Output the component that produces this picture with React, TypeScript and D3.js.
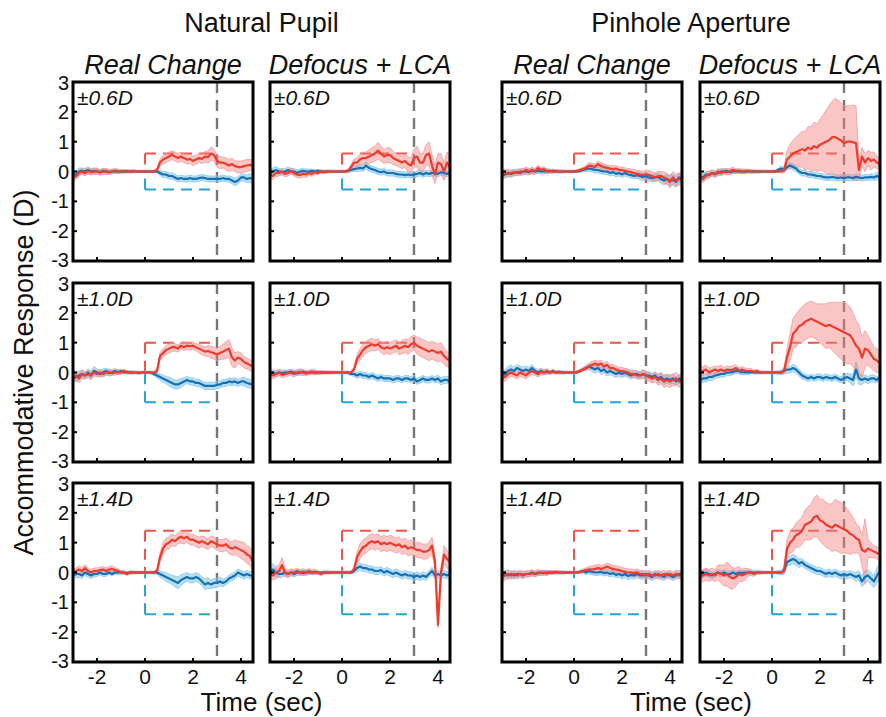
import React from 'react';
import * as d3 from 'd3';

// ---------- DATA ----------
const TIME = [-3,-2.875,-2.75,-2.625,-2.5,-2.375,-2.25,-2.125,
  -2,-1.875,-1.75,-1.625,-1.5,-1.375,-1.25,-1.125,
  -1,-0.875,-0.75,-0.625,-0.5,-0.375,-0.25,-0.125,
  0,0.125,0.25,0.375,0.5,0.625,0.75,0.875,
  1,1.125,1.25,1.375,1.5,1.625,1.75,1.875,
  2,2.125,2.25,2.375,2.5,2.625,2.75,2.875,
  3,3.125,3.25,3.375,3.5,3.625,3.75,3.875,
  4,4.125,4.25,4.375,4.5];

const GROUP_TITLES = ['Natural Pupil', 'Pinhole Aperture'];
const COLUMN_TITLES = ['Real Change', 'Defocus + LCA', 'Real Change', 'Defocus + LCA'];
const AMPLITUDES = [0.6, 1.0, 1.4];
const AMP_LABELS = ['\u00B10.6D', '\u00B11.0D', '\u00B11.4D'];
const X_TICKS = [-2, 0, 2, 4];
const Y_TICKS = [-3, -2, -1, 0, 1, 2, 3];
const STIM_END = 3;

// Row 1: +/-0.6D
const RED_NR06 = [-0.2,-0.15,-0.05,0.0,-0.05,0.02,-0.02,0.0, 0.02,-0.03,0.0,0.01,-0.02,0.0,0.02,0.0, 0.0,0.01,0.0,0.0,0.01,0.0,0.0,0.0, 0.0,0.0,0.0,0.0,0.05,0.3,0.4,0.45, 0.5,0.55,0.5,0.45,0.5,0.45,0.4,0.42, 0.35,0.4,0.45,0.42,0.5,0.48,0.6,0.55, 0.35,0.3,0.3,0.25,0.2,0.25,0.18,0.15, 0.15,0.18,0.2,0.22,0.2];
const RED_NR06_SE = [.12,.12,.1,.1,.1,.1,.1,.1, .1,.1,.1,.1,.08,.08,.08,.08, .06,.06,.05,.05,.05,.04,.04,.04, .04,.04,.04,.04,.06,.12,.15,.15, .15,.15,.15,.15,.15,.15,.15,.15, .15,.15,.15,.15,.18,.2,.22,.2, .2,.2,.18,.2,.2,.2,.18,.2, .2,.2,.2,.18,.2];
const BLUE_NR06 = [-0.1,-0.1,0.0,0.02,0.0,0.05,0.0,0.02, 0.0,-0.02,0.02,0.0,-0.02,0.0,0.01,0.0, 0.0,0.0,0.01,0.0,0.0,0.0,0.0,0.0, 0.0,0.0,0.0,0.0,0.0,-0.05,-0.1,-0.1, -0.15,-0.15,-0.2,-0.25,-0.22,-0.25,-0.25,-0.22, -0.25,-0.25,-0.22,-0.2,-0.22,-0.25,-0.25,-0.25, -0.25,-0.25,-0.22,-0.25,-0.25,-0.3,-0.35,-0.3, -0.2,-0.2,-0.25,-0.22,-0.25];
const BLUE_NR06_SE = [.1,.12,.12,.1,.1,.1,.1,.1, .08,.08,.08,.08,.08,.06,.06,.06, .05,.05,.05,.04,.04,.04,.04,.04, .04,.04,.04,.04,.05,.08,.1,.1, .1,.1,.1,.1,.1,.1,.1,.1, .1,.1,.1,.1,.1,.1,.1,.1, .1,.1,.1,.1,.1,.12,.12,.12, .12,.12,.12,.15,.15];

const RED_ND06 = [-0.1,-0.15,-0.05,-0.05,0.0,-0.08,-0.05,0.02, -0.05,-0.1,-0.12,-0.08,-0.1,-0.05,-0.08,-0.02, -0.05,0.0,-0.02,0.0,0.0,0.0,0.0,0.0, 0.0,0.0,0.02,0.15,0.3,0.3,0.4,0.45, 0.45,0.5,0.55,0.6,0.7,0.6,0.5,0.55, 0.55,0.45,0.4,0.35,0.3,0.35,0.25,0.2, 0.45,0.5,0.3,0.3,0.55,0.6,0.2,-0.1, 0.3,0.25,0.0,0.3,0.15];
const RED_ND06_SE = [.12,.12,.12,.1,.1,.1,.1,.1, .1,.1,.1,.1,.1,.08,.08,.08, .06,.06,.05,.05,.05,.04,.04,.04, .04,.04,.05,.08,.12,.15,.18,.2, .2,.22,.25,.25,.28,.25,.22,.25, .25,.22,.2,.2,.2,.22,.25,.25, .3,.35,.3,.3,.35,.4,.35,.3, .3,.35,.3,.35,.35];
const BLUE_ND06 = [-0.05,0.0,0.05,0.0,-0.02,0.0,0.05,0.0, 0.0,-0.05,0.0,0.02,0.0,0.0,0.02,0.0, 0.02,0.0,0.0,0.0,0.0,0.0,0.0,0.0, 0.0,0.0,0.02,0.05,0.08,0.1,0.12,0.1, 0.2,0.12,0.08,0.05,0.0,-0.02,0.0,-0.05, -0.05,-0.05,-0.08,-0.1,-0.1,-0.12,-0.1,-0.12, -0.1,-0.08,-0.05,-0.1,-0.05,-0.08,-0.05,-0.05, -0.08,-0.02,-0.05,-0.08,-0.05];
const BLUE_ND06_SE = [.12,.12,.12,.1,.1,.1,.1,.1, .1,.1,.08,.08,.08,.08,.06,.06, .05,.05,.05,.04,.04,.04,.04,.04, .04,.04,.05,.06,.08,.1,.1,.1, .12,.12,.1,.1,.1,.1,.1,.1, .1,.1,.1,.1,.1,.1,.1,.1, .1,.1,.1,.1,.1,.1,.1,.1, .1,.1,.1,.1,.1];

const RED_PR06 = [-0.1,-0.05,-0.08,-0.05,-0.03,-0.05,0.0,-0.02, 0.05,0.0,0.02,0.0,0.12,0.05,0.08,0.0, 0.02,0.0,0.01,0.0,0.0,0.0,0.0,0.0, 0.0,0.02,0.05,0.08,0.12,0.2,0.18,0.15, 0.25,0.18,0.15,0.12,0.1,0.08,0.1,0.05, 0.05,0.02,0.0,-0.02,-0.05,-0.08,-0.1,-0.12, -0.1,-0.12,-0.15,-0.2,-0.15,-0.15,-0.2,-0.25, -0.35,-0.2,-0.3,-0.25,-0.28];
const RED_PR06_SE = [.12,.12,.1,.1,.1,.1,.1,.1, .1,.1,.1,.1,.1,.08,.08,.08, .06,.06,.05,.05,.05,.04,.04,.04, .04,.04,.05,.06,.08,.1,.1,.1, .1,.1,.1,.1,.1,.1,.1,.1, .1,.1,.1,.1,.12,.12,.12,.12, .15,.15,.15,.15,.15,.15,.18,.18, .2,.2,.2,.2,.2];
const BLUE_PR06 = [-0.15,-0.1,-0.05,-0.08,-0.05,-0.02,-0.05,0.0, 0.0,-0.02,0.05,0.0,0.02,0.0,0.0,0.02, 0.0,0.02,0.0,0.0,0.0,0.0,0.0,0.0, 0.0,0.0,0.02,0.05,0.08,0.1,0.08,0.05, 0.05,0.02,0.0,0.0,-0.05,-0.02,-0.08,-0.05, -0.1,-0.05,-0.1,-0.12,-0.15,-0.12,-0.15,-0.18, -0.15,-0.2,-0.22,-0.2,-0.18,-0.25,-0.3,-0.25, -0.3,-0.28,-0.35,-0.2,-0.25];
const BLUE_PR06_SE = [.12,.12,.12,.12,.1,.1,.1,.1, .1,.1,.1,.08,.08,.08,.08,.08, .06,.06,.05,.05,.05,.04,.04,.04, .04,.04,.05,.06,.08,.1,.1,.1, .1,.1,.1,.1,.1,.1,.1,.1, .1,.1,.1,.1,.1,.1,.12,.12, .12,.12,.12,.12,.12,.15,.15,.15, .18,.18,.18,.15,.15];

const RED_PD06 = [-0.2,-0.25,-0.15,-0.1,-0.05,-0.1,0.0,-0.05, 0.0,-0.02,0.0,0.05,0.0,0.02,0.0,0.0, 0.02,0.0,0.0,0.0,0.0,0.0,0.0,0.0, 0.0,0.0,0.0,0.0,0.05,0.4,0.5,0.6, 0.65,0.7,0.75,0.7,0.8,0.75,0.85,0.8, 0.9,0.95,1.0,1.05,1.15,1.15,1.1,1.05, 0.95,1.0,1.0,0.98,0.95,0.05,0.5,0.3, 0.45,0.35,0.4,0.3,0.25];
const RED_PD06_SE = [.12,.12,.12,.12,.1,.1,.1,.1, .1,.1,.1,.1,.08,.08,.08,.08, .06,.06,.05,.05,.05,.04,.04,.04, .04,.04,.04,.04,.1,.3,.4,.45, .5,.55,.6,.65,.7,.75,.8,.8, .85,.95,1.05,1.15,1.2,1.3,1.3,1.25, 1.25,1.2,1.2,1.25,1.25,.35,.3,.3, .25,.3,.25,.2,.2];
const BLUE_PD06 = [-0.15,-0.2,-0.1,-0.12,-0.05,-0.08,-0.05,0.0, 0.0,0.02,-0.02,0.0,0.02,0.0,0.0,0.0, 0.0,0.0,0.0,0.0,0.0,0.0,0.0,0.0, 0.0,0.0,0.05,0.1,0.05,0.15,0.2,0.15, 0.1,0.0,-0.05,-0.05,-0.1,-0.1,-0.12,-0.15, -0.15,-0.18,-0.2,-0.2,-0.18,-0.2,-0.22,-0.2, -0.22,-0.2,-0.2,-0.22,-0.18,-0.2,-0.22,-0.2, -0.2,-0.18,-0.2,-0.15,-0.2];
const BLUE_PD06_SE = [.12,.12,.12,.1,.1,.1,.1,.1, .08,.08,.08,.08,.06,.06,.06,.06, .05,.05,.05,.04,.04,.04,.04,.04, .04,.04,.05,.08,.1,.1,.1,.1, .1,.1,.1,.1,.1,.1,.1,.1, .1,.1,.1,.1,.1,.1,.1,.1, .1,.1,.1,.1,.1,.1,.1,.1, .1,.1,.1,.12,.12];

// Row 2: +/-1.0D
const RED_NR10 = [-0.15,-0.1,-0.2,-0.05,-0.1,-0.05,-0.1,0.0, -0.05,0.0,-0.05,0.0,0.02,-0.02,0.0,0.02, 0.0,0.05,0.0,0.0,0.0,0.0,-0.02,0.0, 0.0,0.0,0.0,0.0,0.05,0.55,0.65,0.75, 0.8,0.85,0.85,0.8,0.9,0.85,0.9,0.88, 0.9,0.85,0.8,0.75,0.7,0.72,0.68,0.65, 0.6,0.65,0.7,0.75,0.8,0.5,0.4,0.5, 0.45,0.35,0.3,0.25,0.2];
const RED_NR10_SE = [.15,.15,.15,.15,.12,.12,.12,.12, .1,.1,.1,.1,.1,.08,.08,.08, .06,.06,.05,.05,.05,.04,.04,.04, .04,.04,.04,.04,.08,.12,.15,.15, .15,.15,.12,.12,.12,.12,.12,.12, .12,.12,.15,.15,.15,.18,.2,.2, .2,.22,.25,.28,.3,.3,.25,.2, .2,.2,.18,.18,.18];
const BLUE_NR10 = [-0.2,-0.15,-0.1,-0.05,-0.1,0.0,-0.1,0.05, 0.0,-0.05,0.0,0.05,-0.02,0.0,0.05,0.0, 0.05,0.0,0.02,0.0,0.0,0.0,0.0,0.0, 0.0,0.0,0.0,-0.05,-0.1,-0.15,-0.2,-0.25, -0.3,-0.35,-0.4,-0.4,-0.35,-0.3,-0.25,-0.3, -0.3,-0.35,-0.35,-0.4,-0.45,-0.45,-0.45,-0.45, -0.42,-0.4,-0.35,-0.35,-0.3,-0.32,-0.3,-0.35, -0.3,-0.3,-0.35,-0.38,-0.4];
const BLUE_NR10_SE = [.15,.15,.15,.12,.12,.12,.15,.15, .12,.12,.12,.1,.1,.1,.08,.08, .06,.06,.05,.05,.05,.04,.04,.04, .04,.04,.05,.06,.08,.1,.12,.12, .15,.15,.15,.15,.15,.12,.12,.12, .12,.12,.12,.12,.12,.12,.12,.12, .12,.12,.12,.12,.12,.12,.12,.12, .12,.15,.15,.15,.15];

const RED_ND10 = [-0.05,-0.1,-0.05,0.0,-0.08,-0.05,-0.02,0.0, -0.05,0.0,0.02,0.0,-0.03,0.0,0.02,0.0, 0.0,0.0,0.0,0.0,0.0,0.0,0.0,0.0, 0.0,0.0,0.0,0.0,0.1,0.45,0.6,0.75, 0.85,0.9,0.95,0.9,0.95,0.85,0.8,0.85, 0.8,0.85,0.9,0.8,0.85,0.9,0.85,0.95, 1.0,0.9,0.85,0.8,0.75,0.7,0.75,0.7, 0.65,0.7,0.55,0.45,0.4];
const RED_ND10_SE = [.12,.12,.12,.1,.1,.1,.1,.1, .1,.1,.1,.1,.08,.08,.08,.08, .06,.06,.05,.05,.05,.04,.04,.04, .04,.04,.04,.04,.08,.15,.2,.2, .2,.2,.2,.18,.18,.18,.2,.2, .2,.2,.2,.2,.22,.22,.25,.25, .25,.28,.3,.3,.3,.3,.3,.3, .3,.3,.28,.25,.25];
const BLUE_ND10 = [-0.05,0.0,-0.05,0.0,-0.02,0.0,0.0,0.02, 0.0,-0.02,0.0,0.02,0.0,0.0,0.0,0.0, 0.0,0.0,0.0,0.0,0.0,0.0,0.0,0.0, 0.0,0.0,0.0,-0.05,-0.05,-0.1,-0.05,-0.1, -0.1,-0.15,-0.1,-0.15,-0.2,-0.15,-0.2,-0.2, -0.2,-0.25,-0.2,-0.2,-0.25,-0.2,-0.2,-0.25, -0.2,-0.3,-0.25,-0.2,-0.25,-0.25,-0.2,-0.25, -0.2,-0.3,-0.25,-0.25,-0.3];
const BLUE_ND10_SE = [.1,.1,.1,.1,.1,.08,.08,.08, .08,.08,.08,.08,.06,.06,.06,.06, .05,.05,.05,.04,.04,.04,.04,.04, .04,.04,.05,.06,.08,.1,.1,.1, .1,.1,.1,.1,.1,.1,.1,.1, .1,.1,.1,.1,.1,.1,.1,.1, .1,.1,.1,.1,.1,.1,.1,.1, .12,.12,.12,.12,.12];

const RED_PR10 = [-0.1,-0.15,-0.05,0.0,-0.05,-0.1,0.0,-0.05, -0.1,0.0,0.05,0.0,-0.05,0.02,0.0,0.05, 0.0,0.02,0.0,0.0,0.0,0.0,0.0,0.0, 0.0,0.02,0.05,0.1,0.15,0.2,0.25,0.3, 0.25,0.3,0.2,0.25,0.15,0.15,0.1,0.05, 0.05,0.02,0.0,-0.05,-0.05,-0.1,-0.1,-0.05, -0.1,-0.15,-0.2,-0.15,-0.25,-0.2,-0.3,-0.25, -0.3,-0.25,-0.2,-0.3,-0.25];
const RED_PR10_SE = [.15,.15,.15,.12,.12,.12,.12,.12, .12,.12,.12,.1,.1,.1,.08,.08, .06,.06,.05,.05,.05,.04,.04,.04, .04,.04,.05,.06,.08,.1,.12,.12, .12,.12,.12,.12,.12,.12,.12,.12, .12,.12,.12,.12,.12,.12,.12,.15, .15,.15,.15,.15,.18,.18,.2,.2, .2,.2,.2,.2,.2];
const BLUE_PR10 = [-0.1,-0.05,0.05,0.1,0.05,0.15,0.1,0.05, 0.1,0.05,0.15,0.05,0.0,0.05,0.0,0.02, 0.0,0.05,0.0,0.02,0.0,0.0,0.0,0.0, 0.0,0.0,0.05,0.1,0.15,0.2,0.15,0.1, 0.15,0.05,0.1,0.0,0.05,0.0,-0.05,0.0, -0.05,0.0,-0.05,-0.1,-0.05,-0.05,-0.1,-0.05, -0.1,-0.1,-0.15,-0.1,-0.2,-0.15,-0.25,-0.2, -0.25,-0.2,-0.3,-0.2,-0.25];
const BLUE_PR10_SE = [.15,.15,.15,.15,.12,.12,.12,.12, .12,.12,.12,.1,.1,.1,.08,.08, .06,.06,.05,.05,.05,.04,.04,.04, .04,.04,.05,.06,.08,.1,.12,.12, .12,.12,.12,.12,.12,.12,.12,.12, .12,.12,.12,.12,.12,.12,.12,.12, .12,.12,.12,.12,.15,.15,.15,.15, .15,.15,.15,.15,.15];

const RED_PD10 = [0.0,0.05,0.1,0.0,0.05,0.1,0.05,0.1, 0.05,0.1,0.08,0.1,0.15,0.05,0.1,0.05, 0.05,0.05,0.02,0.05,0.0,0.0,0.0,0.0, 0.0,0.0,0.0,0.0,0.05,0.5,0.85,1.3, 1.4,1.55,1.6,1.7,1.75,1.8,1.75,1.7, 1.65,1.6,1.55,1.6,1.55,1.5,1.45,1.4, 1.35,1.3,1.25,1.1,0.9,0.8,0.5,0.8, 0.75,0.6,0.45,0.4,0.3];
const RED_PD10_SE = [.15,.15,.15,.15,.12,.12,.15,.15, .12,.12,.12,.12,.12,.1,.1,.1, .08,.08,.06,.06,.05,.04,.04,.04, .04,.04,.04,.04,.1,.3,.45,.5, .55,.55,.6,.6,.6,.6,.6,.6, .65,.7,.75,.75,.8,.85,.9,.95, 1.0,1.0,.95,.9,.85,.8,.7,.6, .5,.45,.4,.4,.35];
const BLUE_PD10 = [-0.25,-0.2,-0.2,-0.15,-0.15,-0.1,-0.08,-0.05, -0.05,0.0,0.0,0.02,0.05,0.05,0.0,0.02, 0.0,0.02,0.0,0.0,0.0,0.0,0.0,0.0, 0.0,0.0,0.0,0.0,0.05,0.1,0.1,0.15, 0.1,0.0,-0.1,-0.15,-0.2,-0.15,-0.2,-0.15, -0.15,-0.2,-0.15,-0.18,-0.2,-0.15,-0.2,-0.25, -0.2,-0.15,-0.2,-0.25,0.1,-0.2,-0.25,-0.2, -0.25,-0.2,-0.2,-0.25,-0.15];
const BLUE_PD10_SE = [.12,.12,.12,.12,.12,.1,.1,.1, .1,.1,.1,.1,.08,.08,.08,.08, .06,.06,.05,.05,.05,.04,.04,.04, .04,.04,.05,.08,.1,.12,.12,.12, .12,.12,.12,.1,.1,.1,.1,.1, .1,.1,.1,.1,.1,.1,.1,.1, .1,.12,.15,.2,.25,.2,.15,.12, .12,.12,.12,.1,.1];

// Row 3: +/-1.4D
const RED_NR14 = [0.0,0.05,0.1,0.05,0.15,0.05,0.0,0.05, 0.05,0.08,0.1,0.05,0.1,0.12,0.08,0.05, 0.0,0.0,-0.05,0.0,0.0,0.0,0.0,0.0, 0.0,0.0,0.0,0.0,0.05,0.5,0.8,0.95, 1.0,1.1,1.05,1.15,1.2,1.15,1.2,1.1, 1.1,1.05,1.0,1.05,1.0,0.95,1.05,1.0, 0.95,0.9,0.9,0.95,0.85,0.8,0.85,0.8, 0.75,0.7,0.6,0.55,0.35];
const RED_NR14_SE = [.1,.1,.12,.12,.12,.1,.1,.1, .1,.1,.1,.1,.1,.1,.08,.08, .06,.06,.05,.05,.05,.04,.04,.04, .04,.04,.04,.04,.08,.15,.2,.2, .2,.2,.18,.18,.2,.2,.18,.18, .18,.18,.18,.18,.18,.18,.18,.18, .2,.2,.2,.2,.22,.22,.25,.25, .28,.3,.3,.3,.3];
const BLUE_NR14 = [-0.1,-0.05,-0.05,-0.1,0.0,-0.05,-0.1,-0.05, -0.05,0.0,-0.05,-0.05,0.0,-0.05,0.0,0.0, 0.0,0.0,-0.02,0.0,0.0,0.0,0.0,0.0, 0.0,0.0,0.0,0.0,0.0,-0.05,-0.1,-0.15, -0.2,-0.25,-0.3,-0.35,-0.25,-0.2,-0.15,-0.2, -0.2,-0.15,-0.2,-0.3,-0.4,-0.35,-0.4,-0.35, -0.35,-0.3,-0.35,-0.3,-0.2,-0.15,-0.1,0.0, -0.05,-0.1,-0.05,-0.1,-0.1];
const BLUE_NR14_SE = [.1,.12,.12,.1,.1,.1,.1,.1, .08,.08,.08,.08,.06,.06,.06,.06, .05,.05,.05,.04,.04,.04,.04,.04, .04,.04,.04,.05,.06,.1,.12,.15, .15,.15,.18,.2,.18,.15,.15,.15, .15,.15,.15,.15,.18,.18,.15,.15, .15,.15,.12,.12,.12,.12,.12,.12, .12,.12,.12,.12,.12];

const RED_ND14 = [-0.05,-0.1,0.0,0.05,0.25,0.0,-0.05,0.0, 0.0,0.05,0.0,0.02,0.0,0.05,0.0,0.02, 0.0,-0.05,0.0,0.0,0.0,0.0,0.0,0.0, 0.0,0.0,0.0,0.0,0.1,0.5,0.7,0.85, 0.9,1.0,1.05,1.0,1.05,0.95,1.0,0.95, 1.0,0.95,0.9,0.95,0.85,0.9,0.8,0.85, 0.8,0.75,0.75,0.7,0.7,0.75,0.9,0.35, -1.75,0.0,0.6,0.45,0.35];
const RED_ND14_SE = [.15,.15,.2,.2,.25,.15,.12,.12, .1,.1,.1,.1,.1,.08,.08,.08, .06,.06,.05,.05,.05,.04,.04,.04, .04,.04,.04,.04,.1,.2,.25,.25, .25,.25,.25,.25,.25,.25,.25,.25, .25,.25,.25,.25,.25,.25,.25,.25, .25,.25,.25,.25,.25,.25,.28,.2, .1,.15,.3,.3,.25];
const BLUE_ND14 = [0.0,0.1,0.0,-0.05,-0.05,0.0,-0.05,0.0, -0.05,0.0,0.0,-0.02,0.0,0.0,0.0,0.0, 0.0,0.0,0.0,0.0,0.0,0.0,0.0,0.0, 0.0,0.0,0.0,0.0,0.05,0.15,0.2,0.15, 0.15,0.1,0.1,0.05,0.05,0.08,0.0,0.05, 0.0,-0.05,0.0,-0.05,-0.1,-0.05,-0.1,-0.1, -0.15,-0.1,-0.15,-0.1,-0.15,-0.05,0.05,-0.1, -0.05,-0.1,-0.05,-0.1,-0.05];
const BLUE_ND14_SE = [.15,.2,.15,.12,.12,.1,.1,.1, .1,.1,.08,.08,.08,.08,.06,.06, .05,.05,.05,.04,.04,.04,.04,.04, .04,.04,.04,.05,.08,.12,.12,.12, .12,.12,.12,.12,.12,.12,.12,.12, .12,.12,.12,.12,.12,.12,.12,.12, .12,.12,.12,.12,.12,.12,.12,.12, .12,.12,.12,.12,.12];

const RED_PR14 = [-0.15,-0.1,-0.05,-0.1,-0.05,-0.1,-0.05,-0.08, -0.05,-0.05,-0.02,-0.05,0.0,-0.02,0.0,-0.02, 0.0,0.0,0.02,0.0,0.0,0.0,0.0,0.0, 0.0,0.0,0.02,0.05,0.08,0.1,0.1,0.12, 0.15,0.12,0.15,0.2,0.15,0.12,0.1,0.08, 0.05,0.02,0.0,0.0,-0.02,0.0,-0.05,-0.05, -0.1,-0.05,-0.1,-0.1,-0.05,-0.1,-0.05,-0.1, -0.05,-0.1,-0.05,-0.1,-0.08];
const RED_PR14_SE = [.15,.15,.15,.12,.12,.12,.12,.12, .1,.1,.1,.1,.1,.08,.08,.08, .06,.06,.05,.05,.05,.04,.04,.04, .04,.04,.05,.06,.08,.1,.12,.12, .12,.12,.12,.12,.12,.12,.12,.12, .12,.12,.12,.12,.12,.12,.12,.12, .12,.12,.12,.12,.12,.12,.12,.12, .12,.12,.12,.12,.12];
const BLUE_PR14 = [-0.1,-0.05,-0.1,-0.05,-0.1,-0.05,-0.05,-0.1, -0.05,-0.05,0.0,-0.05,-0.02,0.0,-0.02,0.0, 0.0,0.0,0.0,0.0,0.0,0.0,0.0,0.0, 0.0,0.0,0.02,0.05,0.0,0.05,0.02,0.0, 0.0,0.02,-0.02,0.0,-0.05,-0.02,-0.08,-0.05, -0.1,-0.05,-0.12,-0.08,-0.1,-0.05,-0.1,-0.1, -0.05,-0.1,-0.15,-0.05,-0.1,-0.1,-0.15,-0.05, -0.1,-0.15,-0.1,-0.05,-0.1];
const BLUE_PR14_SE = [.12,.12,.12,.12,.12,.1,.1,.1, .1,.1,.1,.08,.08,.08,.08,.08, .06,.06,.05,.05,.05,.04,.04,.04, .04,.04,.05,.06,.08,.1,.1,.1, .1,.1,.1,.1,.1,.1,.1,.1, .12,.12,.12,.12,.12,.12,.12,.12, .12,.12,.12,.12,.12,.12,.12,.12, .12,.12,.12,.12,.12];

const RED_PD14 = [-0.15,-0.1,-0.05,-0.1,-0.05,-0.1,0.0,-0.05, -0.1,-0.05,-0.15,-0.2,-0.15,-0.05,-0.1,-0.05, 0.0,0.0,-0.05,0.0,0.0,0.0,0.0,0.0, 0.0,0.0,0.0,0.0,0.05,0.8,1.0,1.1, 1.25,1.3,1.4,1.6,1.65,1.7,1.85,1.9, 1.75,1.7,1.6,1.55,1.5,1.6,1.55,1.5, 1.45,1.4,1.3,1.25,1.15,1.1,0.75,0.7, 0.8,0.75,0.7,0.65,0.6];
const RED_PD14_SE = [.2,.2,.2,.2,.2,.2,.25,.3, .35,.4,.4,.35,.3,.25,.2,.2, .12,.1,.08,.06,.05,.04,.04,.04, .04,.04,.04,.04,.1,.3,.35,.4, .4,.45,.45,.5,.55,.6,.65,.7, .7,.75,.75,.75,.8,.85,.85,.85, .8,.75,.7,.6,.5,.45,.5,1.1, .3,.25,.2,.2,.2];
const BLUE_PD14 = [-0.1,-0.05,0.0,-0.05,-0.1,-0.05,0.0,-0.05, 0.0,-0.05,-0.05,0.0,-0.05,0.0,-0.02,0.0, 0.0,0.0,0.0,0.0,0.0,0.0,0.0,0.0, 0.0,0.0,0.0,0.0,0.05,0.35,0.4,0.45, 0.4,0.3,0.35,0.25,0.2,0.15,0.1,0.05, 0.05,0.0,-0.05,0.0,-0.05,0.0,-0.05,-0.1, -0.05,-0.1,-0.05,-0.1,-0.15,-0.1,-0.3,-0.15, -0.1,-0.2,-0.3,-0.1,0.05];
const BLUE_PD14_SE = [.12,.12,.12,.12,.1,.1,.1,.1, .1,.1,.1,.1,.08,.08,.08,.08, .06,.06,.05,.05,.05,.04,.04,.04, .04,.04,.05,.08,.12,.15,.15,.15, .15,.15,.12,.12,.12,.12,.12,.12, .12,.12,.12,.12,.12,.12,.12,.12, .12,.12,.12,.12,.15,.15,.18,.2, .2,.2,.2,.25,.3];

// table built from the arrays above: [row][col]
const SERIES = [
  [[RED_NR06, RED_NR06_SE, BLUE_NR06, BLUE_NR06_SE], [RED_ND06, RED_ND06_SE, BLUE_ND06, BLUE_ND06_SE], [RED_PR06, RED_PR06_SE, BLUE_PR06, BLUE_PR06_SE], [RED_PD06, RED_PD06_SE, BLUE_PD06, BLUE_PD06_SE]],
  [[RED_NR10, RED_NR10_SE, BLUE_NR10, BLUE_NR10_SE], [RED_ND10, RED_ND10_SE, BLUE_ND10, BLUE_ND10_SE], [RED_PR10, RED_PR10_SE, BLUE_PR10, BLUE_PR10_SE], [RED_PD10, RED_PD10_SE, BLUE_PD10, BLUE_PD10_SE]],
  [[RED_NR14, RED_NR14_SE, BLUE_NR14, BLUE_NR14_SE], [RED_ND14, RED_ND14_SE, BLUE_ND14, BLUE_ND14_SE], [RED_PR14, RED_PR14_SE, BLUE_PR14, BLUE_PR14_SE], [RED_PD14, RED_PD14_SE, BLUE_PD14, BLUE_PD14_SE]],
];

// ---------- LAYOUT / STYLE ----------
const W = 886, H = 717;
const COL_X = [73, 270, 502, 700];
const ROW_Y = [82, 283, 483];
const PW = 180, PH = 179;
const FONT = "'Liberation Sans', Arial, Helvetica, sans-serif";
const RED = '#ef3b2c';
const RED_BAND = '#f37f7f';
const RED_EDGE = '#f29a9a';
const RED_TARGET = '#f0554c';
const BLUE = '#1570b5';
const BLUE_BAND = '#6fc0e8';
const BLUE_EDGE = '#86c9ec';
const BLUE_TARGET = '#27a3da';
const GRAY = '#777777';

type Pt = { t: number; m: number; s: number };

function toPts(mean: number[], se: number[]): Pt[] {
  const n = Math.min(TIME.length, mean.length, se.length);
  const out: Pt[] = [];
  for (let i = 0; i < n; i++) out.push({ t: TIME[i], m: mean[i], s: se[i] });
  return out;
}

function Panel({ row, col }: { row: number; col: number }) {
  const x0 = COL_X[col], y0 = ROW_Y[row];
  const xs = d3.scaleLinear().domain([-3, 4.5]).range([x0, x0 + PW]);
  const ys = d3.scaleLinear().domain([-3, 3]).range([y0 + PH, y0]);
  const [rm, rs, bm, bs] = SERIES[row][col];
  const red = toPts(rm, rs);
  const blue = toPts(bm, bs);
  const amp = AMPLITUDES[row];
  const area = d3.area<Pt>().x(d => xs(d.t)).y0(d => ys(d.m - d.s)).y1(d => ys(d.m + d.s));
  const mid = d3.line<Pt>().x(d => xs(d.t)).y(d => ys(d.m));
  const up = d3.line<Pt>().x(d => xs(d.t)).y(d => ys(d.m + d.s));
  const lo = d3.line<Pt>().x(d => xs(d.t)).y(d => ys(d.m - d.s));
  const clipId = `clip-${row}-${col}`;
  const dash = '11 7';
  // nudge the extreme y labels a hair inward so stacked panels' labels don't collide
  const yLabelNudge = (v: number) => (v === 3 ? 1 : v === -3 ? -1.5 : 0);
  return (
    <g>
      <defs>
        <clipPath id={clipId}>
          <rect x={x0} y={y0} width={PW} height={PH} />
        </clipPath>
      </defs>
      <g clipPath={`url(#${clipId})`}>
        {/* target step outlines */}
        <line x1={xs(0)} y1={ys(amp)} x2={xs(STIM_END)} y2={ys(amp)} stroke={RED_TARGET} strokeWidth={2} strokeDasharray={dash} />
        <line x1={xs(0)} y1={ys(amp)} x2={xs(0)} y2={ys(0)} stroke={RED_TARGET} strokeWidth={2} strokeDasharray={dash} />
        <line x1={xs(0)} y1={ys(-amp)} x2={xs(STIM_END)} y2={ys(-amp)} stroke={BLUE_TARGET} strokeWidth={2} strokeDasharray={dash} />
        <line x1={xs(0)} y1={ys(-amp)} x2={xs(0)} y2={ys(0)} stroke={BLUE_TARGET} strokeWidth={2} strokeDasharray={dash} />
        <line x1={xs(STIM_END)} y1={y0} x2={xs(STIM_END)} y2={y0 + PH} stroke={GRAY} strokeWidth={2.4} strokeDasharray={dash} />
        {/* bands */}
        <path d={area(blue) || ''} fill={BLUE_BAND} fillOpacity={0.5} />
        <path d={up(blue) || ''} fill="none" stroke={BLUE_EDGE} strokeWidth={0.8} />
        <path d={lo(blue) || ''} fill="none" stroke={BLUE_EDGE} strokeWidth={0.8} />
        <path d={area(red) || ''} fill={RED_BAND} fillOpacity={0.45} />
        <path d={up(red) || ''} fill="none" stroke={RED_EDGE} strokeWidth={0.8} />
        <path d={lo(red) || ''} fill="none" stroke={RED_EDGE} strokeWidth={0.8} />
        {/* means */}
        <path d={mid(blue) || ''} fill="none" stroke={BLUE} strokeWidth={2.2} strokeLinejoin="round" />
        <path d={mid(red) || ''} fill="none" stroke={RED} strokeWidth={2.2} strokeLinejoin="round" />
      </g>
      {/* ticks */}
      {Y_TICKS.map(v => (
        <line key={'yt' + v} x1={x0} x2={x0 + 4} y1={ys(v)} y2={ys(v)} stroke="#000" strokeWidth={2} />
      ))}
      {X_TICKS.map(v => (
        <line key={'xt' + v} x1={xs(v)} x2={xs(v)} y1={y0 + PH} y2={y0 + PH - 4} stroke="#000" strokeWidth={2} />
      ))}
      <rect x={x0} y={y0} width={PW} height={PH} fill="none" stroke="#000" strokeWidth={3} />
      <text x={x0 + 4} y={y0 + 23} fontFamily={FONT} fontSize={21} fontStyle="italic" fill="#111">{AMP_LABELS[row]}</text>
      {col === 0 && Y_TICKS.map(v => (
        <text key={'yl' + v} x={x0 - 4} y={ys(v) + 7 + yLabelNudge(v)} textAnchor="end" fontFamily={FONT} fontSize={20} fill="#111">{v}</text>
      ))}
      {row === 2 && X_TICKS.map(v => (
        <text key={'xl' + v} x={xs(v)} y={y0 + PH + 22} textAnchor="middle" fontFamily={FONT} fontSize={21} fill="#111">{v}</text>
      ))}
    </g>
  );
}

export default function App() {
  const cells: { row: number; col: number }[] = [];
  for (let r = 0; r < 3; r++) for (let c = 0; c < 4; c++) cells.push({ row: r, col: c });
  const colCenter = (c: number) => COL_X[c] + PW / 2;
  return (
    <svg width={W} height={H} style={{ position: 'absolute', left: 0, top: 0, background: '#fff' }}>
      <rect x={0} y={0} width={W} height={H} fill="#fff" />
      {GROUP_TITLES.map((t, g) => (
        <text key={t} x={(colCenter(2 * g) + colCenter(2 * g + 1)) / 2} y={32} textAnchor="middle" fontFamily={FONT} fontSize={27} fill="#111">{t}</text>
      ))}
      {COLUMN_TITLES.map((t, c) => (
        <text key={'ct' + c} x={colCenter(c)} y={74} textAnchor="middle" fontFamily={FONT} fontSize={27} fontStyle="italic" fill="#111">{t}</text>
      ))}
      {cells.map(p => <Panel key={`${p.row}-${p.col}`} row={p.row} col={p.col} />)}
      <text transform={`translate(33, ${ROW_Y[1] + PH / 2}) rotate(-90)`} textAnchor="middle" fontFamily={FONT} fontSize={27} fill="#111">Accommodative Response (D)</text>
      {[0, 1].map(g => (
        <text key={'xlab' + g} x={(colCenter(2 * g) + colCenter(2 * g + 1)) / 2} y={711} textAnchor="middle" fontFamily={FONT} fontSize={26} fill="#111">Time (sec)</text>
      ))}
    </svg>
  );
}
